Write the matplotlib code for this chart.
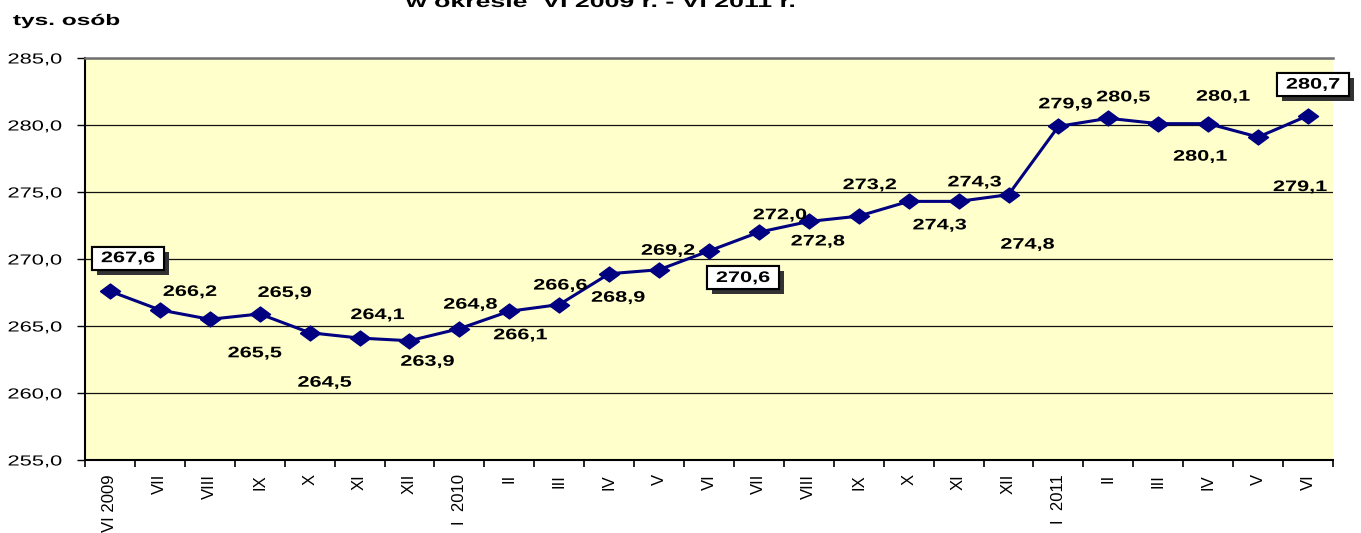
import matplotlib
matplotlib.use("Agg")
import matplotlib.pyplot as plt
import matplotlib.patheffects as pe
from matplotlib.transforms import Affine2D
from matplotlib.path import Path
import numpy as np

plt.rcParams['font.family'] = ['Liberation Sans', 'DejaVu Sans']

months = ["VI 2009", "VII", "VIII", "IX", "X", "XI", "XII", "I  2010", "II", "III",
          "IV", "V", "VI", "VII", "VIII", "IX", "X", "XI", "XII", "I  2011",
          "II", "III", "IV", "V", "VI"]
values = [267.6, 266.2, 265.5, 265.9, 264.5, 264.1, 263.9, 264.8, 266.1, 266.6,
          268.9, 269.2, 270.6, 272.0, 272.8, 273.2, 274.3, 274.3, 274.8, 279.9,
          280.5, 280.1, 280.1, 279.1, 280.7]
yticks = [255, 260, 265, 270, 275, 280, 285]
boxed = {0, 12, 24}
# label offsets in pixels (dx, dy; positive dy = up)
offsets = [(18, 33), (30, 18), (45, -34), (25, 21), (15, -50), (18, 23), (18, -21),
           (11, 24), (11, -24), (1, 19), (9, -24), (9, 19), (34, -27), (21, 17),
           (9, -20), (11, 31), (31, -24), (16, 19), (19, -50), (7, 22), (15, 21),
           (42, -33), (15, 27), (42, -50), (5, 31)]


class Stretch(pe.AbstractPathEffect):
    """Stretch text horizontally (in text-local coordinates)."""
    def __init__(self, sx, anchor='center'):
        super().__init__()
        self.sx = sx
        self.anchor = anchor

    def draw_path(self, renderer, gc, tpath, affine, rgbFace=None):
        ext = tpath.get_extents()
        if self.anchor == 'right':
            cx = ext.x1
        elif self.anchor == 'left':
            cx = ext.x0
        else:
            cx = (ext.x0 + ext.x1) / 2
        tr = Affine2D().translate(-cx, 0).scale(self.sx, 1).translate(cx, 0) + affine
        renderer.draw_path(gc, tpath, tr, rgbFace)


class WideBox:
    def __init__(self, sx, padx, pady):
        self.sx, self.padx, self.pady = sx, padx, pady

    def __call__(self, x0, y0, width, height, mutation_size):
        ex = (self.sx - 1) * width / 2 + self.padx
        x0, x1 = x0 - ex, x0 + width + ex
        y0, y1 = y0 - self.pady, y0 + height + self.pady
        return Path([(x0, y0), (x1, y0), (x1, y1), (x0, y1), (x0, y0)], closed=True)


SX = 1.42

fig = plt.figure(figsize=(13.61, 5.33), dpi=100)
ax = fig.add_axes([85/1361, 73/533, 1248/1361, 402/533])
ax.set_facecolor('#FFFFCC')

x = np.arange(len(values))
diamond = [(-1.35, 0), (0, 1), (1.35, 0), (0, -1), (-1.35, 0)]
ax.plot(x, values, color='#000080', lw=2.2, marker=diamond, markersize=14.5,
        markerfacecolor='#000080', markeredgecolor='#000080', zorder=3)

ax.set_xlim(-0.5, len(values) - 0.5)
ax.set_ylim(255, 285)
ax.set_yticks(yticks)
ax.set_yticklabels([f"{v:.1f}".replace('.', ',') for v in yticks], fontsize=10.5)
ax.yaxis.grid(True, color='#111111', lw=0.9)
ax.set_axisbelow(True)

ax.set_xticks(x)
ax.set_xticklabels(months, rotation=90, fontsize=12, va='top')
ax.set_xticks(np.arange(-0.5, len(values)), minor=True)
ax.tick_params(axis='x', which='major', length=0, pad=10)
ax.tick_params(axis='x', which='minor', length=5, width=1.2, color='black')
ax.tick_params(axis='y', length=5.5, width=1, pad=11)
for lab in ax.get_yticklabels():
    lab.set_path_effects([Stretch(1.5, 'right')])

ax.spines['left'].set_linewidth(1.5)
ax.spines['bottom'].set_linewidth(1.5)
ax.spines['right'].set_visible(False)
ax.spines['top'].set_color('#707070')
ax.spines['top'].set_linewidth(1.8)

for i, (v, (dx, dy)) in enumerate(zip(values, offsets)):
    txt = f"{v:.1f}".replace('.', ',')
    if i in boxed:
        t = ax.annotate(txt, (i, v), xytext=(dx, dy), textcoords='offset pixels',
                        ha='center', va='center', fontsize=11, fontweight='bold',
                        bbox=dict(boxstyle=WideBox(SX, 9, 4.5), fc='white',
                                  ec='black', lw=1.5),
                        zorder=5)
        t.set_path_effects([Stretch(SX)])
        t.get_bbox_patch().set_path_effects([
            pe.withSimplePatchShadow(offset=(3.5, -3.5), shadow_rgbFace='#333333',
                                     alpha=1.0),
            pe.Normal()])
    else:
        t = ax.annotate(txt, (i, v), xytext=(dx, dy), textcoords='offset pixels',
                        ha='center', va='center', fontsize=11, fontweight='bold',
                        zorder=4)
        t.set_path_effects([Stretch(SX)])

t1 = fig.text(13/1361, 1 - 21/533, "tys. osób", fontsize=11, fontweight='bold',
              ha='left', va='center')
t1.set_path_effects([Stretch(1.6, 'left')])
t2 = fig.text(600/1361, 1 - 7/533, "w okresie  VI 2009 r. - VI 2011 r.", fontsize=12,
              fontweight='bold', ha='center', va='baseline')
t2.set_path_effects([Stretch(1.6)])

fig.savefig("out.png", dpi=100, facecolor='white')
